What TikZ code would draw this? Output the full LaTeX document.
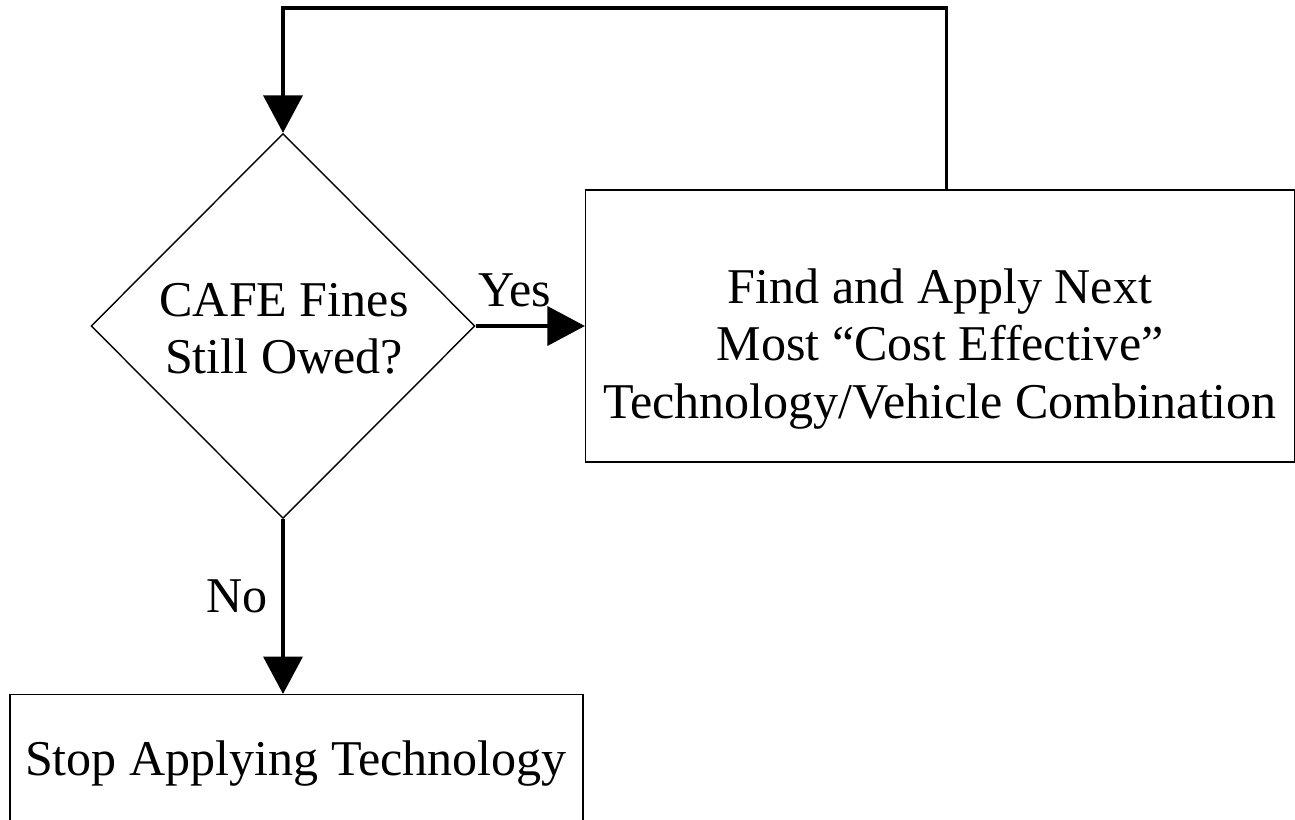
\documentclass[tikz,border=0pt]{standalone}
\usepackage{fontspec}
\setmainfont{Liberation Serif}
\usetikzlibrary{arrows.meta,shapes.geometric}

\begin{document}
\begin{tikzpicture}[x=0.02cm, y=-0.02cm,
		font=\fontsize{28.5pt}{32.5pt}\selectfont,
		box/.style={draw, line width=0.8pt, inner sep=0pt},
		choice/.style={diamond, draw, line width=0.8pt, inner sep=0pt, aspect=1},
		conn/.style={line width=2.2pt, -{Triangle[length=0.75cm, width=0.78cm]}}]
		\useasboundingbox (0,0) rectangle (1295,820);
		% decision and the two boxes
		\node[choice, minimum width=7.68cm, minimum height=7.7cm] (cafe) at (283,326) {};
		\node[align=center] (cafetext) at (284,329) {CAFE Fines\\Still Owed?};
		\node[box, minimum width=14.18cm, minimum height=5.44cm] (apply) at (940,326) {};
		\node[align=center] (applytext) at (940,349) {Find and Apply Next\\Most ``Cost Effective''\\Technology/Vehicle Combination};
		\node[box, minimum width=11.46cm, minimum height=4cm, anchor=north] (stop) at (296.5,694) {};
		\node (stoptext) at (296,764) {Stop Applying Technology};
		
		% connectors
		\draw[conn] (cafe.east) -- (apply.west);
		\node (yes) at (515,290) {Yes};
		\draw[conn] (cafe.south) -- (cafe.south |- stop.north);
		\node (no) at (237,596) {No};
		\coordinate (loop) at (946.5,8);
		\draw[conn] (apply.north -| loop) -- (loop) -| (cafe.north);
	\end{tikzpicture}
\end{document}
